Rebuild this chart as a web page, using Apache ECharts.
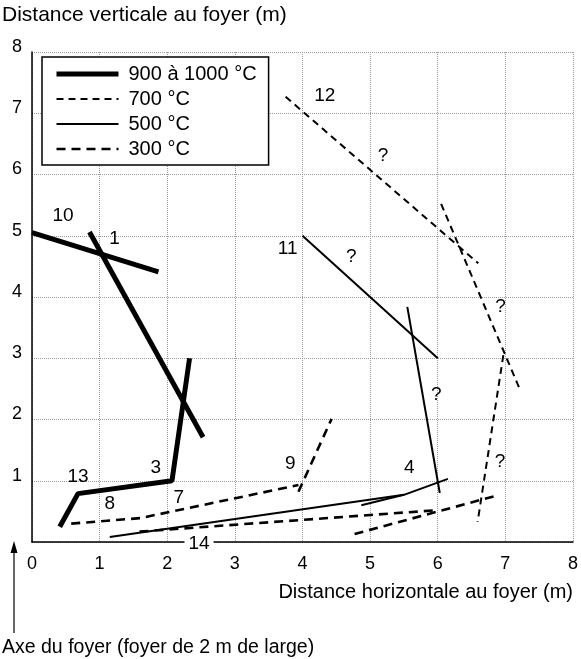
<!DOCTYPE html>
<html>
<head>
<meta charset="utf-8">
<script src="https://cdn.jsdelivr.net/npm/echarts@6/dist/echarts.min.js"></script>
<style>
  html, body { margin: 0; padding: 0; background: #fff; }
  #chart { width: 581px; height: 659px; }
</style>
</head>
<body>
<div id="chart"></div>
<script>
// segments for each temperature, [x, y] in metres
var seg900 = [
    [[0, 5.05], [1.87, 4.41]],                          // 10
    [[0.85, 5.06], [2.53, 1.71]],                       // 1
    [[0.41, 0.25], [0.68, 0.79], [2.07, 1.0], [2.33, 3.0]]  // 13 - 3
];
var seg700 = [
    [[3.75, 7.27], [6.6, 4.55]],                        // 12
    [[6.05, 5.52], [7.2, 2.53]],
    [[6.97, 3.05], [6.59, 0.33]]
];
var seg500 = [
    [[4.0, 5.0], [6.0, 3.0]],                           // 11
    [[5.55, 3.84], [6.03, 0.8]],                        // 4
    [[1.15, 0.08], [5.5, 0.77], [6.15, 1.03]],          // 14
    [[4.87, 0.6], [5.5, 0.77]]
];
var seg300 = [
    [[0.58, 0.3], [1.6, 0.39], [3.94, 0.93]],           // 8 - 7
    [[3.94, 0.82], [4.43, 2.01]],                       // 9
    [[1.59, 0.17], [6.0, 0.52]],
    [[4.77, 0.13], [6.88, 0.76]]
];
var tempNames = ['900 à 1000 °C', '700 °C', '500 °C', '300 °C'];
var xTicks = [0, 1, 2, 3, 4, 5, 6, 7, 8];
var yTicks = [0, 1, 2, 3, 4, 5, 6, 7, 8];
var marks = [
    [0.46, 5.33, '10'], [1.22, 4.95, '1'], [3.78, 4.79, '11'], [4.33, 7.29, '12'],
    [0.68, 1.07, '13'], [1.83, 1.22, '3'], [1.15, 0.63, '8'], [2.17, 0.73, '7'],
    [3.82, 1.28, '9'], [5.58, 1.22, '4'],
    [5.19, 6.31, '?'], [4.72, 4.65, '?'], [6.93, 3.84, '?'], [5.98, 2.4, '?'], [6.92, 1.31, '?']
];
var mark14 = [[2.47, -0.03, '14']];

var font = 'Liberation Sans, Arial, Helvetica, sans-serif';
var styles = [
    {width: 5, type: 'solid'},
    {width: 2, type: [7, 5]},
    {width: 2, type: 'solid'},
    {width: 2.6, type: [9, 6]}
];

var series = [];
[seg900, seg700, seg500, seg300].forEach(function(group, i){
    group.forEach(function(seg){
        series.push({
            name: tempNames[i],
            type: 'line',
            data: seg,
            symbol: 'none',
            lineStyle: {color: '#000', width: styles[i].width, type: styles[i].type, cap: 'butt'},
            itemStyle: {color: '#000'},
            z: 3
        });
    });
});
var labelStyle = {show: true, position: 'inside', formatter: function(p){ return p.value[2]; },
    color: '#000', opacity: 1, fontSize: 19, fontFamily: font, textBorderWidth: 0, textBorderColor: 'transparent'};
series.push({
    type: 'scatter',
    data: marks,
    symbolSize: 0,
    itemStyle: {color: '#000', opacity: 1},
    label: labelStyle,
    z: 5
});
series.push({
    type: 'scatter',
    data: mark14,
    clip: false,
    symbolSize: 0,
    itemStyle: {color: '#000', opacity: 1},
    label: Object.assign({}, labelStyle, {backgroundColor: '#fff', padding: [0, 4]}),
    z: 6
});

var chart = echarts.init(document.getElementById('chart'), null, {renderer: 'canvas'});
chart.setOption({
    animation: false,
    backgroundColor: '#fff',
    grid: {left: 32, right: 6, top: 52, bottom: 117},
    legend: {
        data: tempNames.map(function(n, i){
            return {name: n, lineStyle: {width: styles[i].width, type: styles[i].type, color: '#000'}};
        }),
        orient: 'vertical',
        left: 42, top: 57,
        padding: [7, 12, 6, 12],
        itemWidth: 62, itemHeight: 14, itemGap: 5,
        itemStyle: {opacity: 0},
        borderColor: '#000', borderWidth: 1.5,
        backgroundColor: '#fff',
        textStyle: {color: '#000', fontSize: 20, fontFamily: font, padding: [0, 0, 0, 5]},
        z: 10
    },
    xAxis: {
        type: 'value', min: xTicks[0], max: xTicks[xTicks.length - 1], interval: 1,
        name: 'Distance horizontale au foyer (m)',
        nameLocation: 'end', nameGap: 0,
        nameTextStyle: {align: 'right', verticalAlign: 'top', padding: [40, 0, 0, 0],
            color: '#000', fontSize: 20, fontFamily: font},
        axisLine: {lineStyle: {color: '#000', width: 1.5}},
        axisTick: {show: false},
        axisLabel: {color: '#000', fontSize: 18, fontFamily: font, margin: 13},
        splitLine: {lineStyle: {color: '#999', type: 'dotted'}}
    },
    yAxis: {
        type: 'value', min: yTicks[0], max: yTicks[yTicks.length - 1], interval: 1,
        axisLine: {show: true, lineStyle: {color: '#000', width: 1.5}},
        axisTick: {show: false},
        axisLabel: {color: '#000', fontSize: 18, fontFamily: font, margin: 10,
            verticalAlign: 'bottom', lineHeight: 10,
            formatter: function(v){ return v === 0 ? '' : v; }},
        splitLine: {lineStyle: {color: '#999', type: 'dotted'}}
    },
    graphic: [
        {type: 'text', left: 2, top: 5,
         style: {text: 'Distance verticale au foyer (m)', fill: '#000', font: '21px ' + font}},
        {type: 'text', left: 2, top: 638,
         style: {text: 'Axe du foyer (foyer de 2 m de large)', fill: '#000', font: '19.5px ' + font}},
        {type: 'line', shape: {x1: 14, y1: 552, x2: 14, y2: 633},
         style: {stroke: '#000', lineWidth: 1.2}},
        {type: 'polygon', shape: {points: [[14, 541], [10.5, 553], [17.5, 553]]},
         style: {fill: '#000'}}
    ],
    series: series
});
</script>
</body>
</html>
